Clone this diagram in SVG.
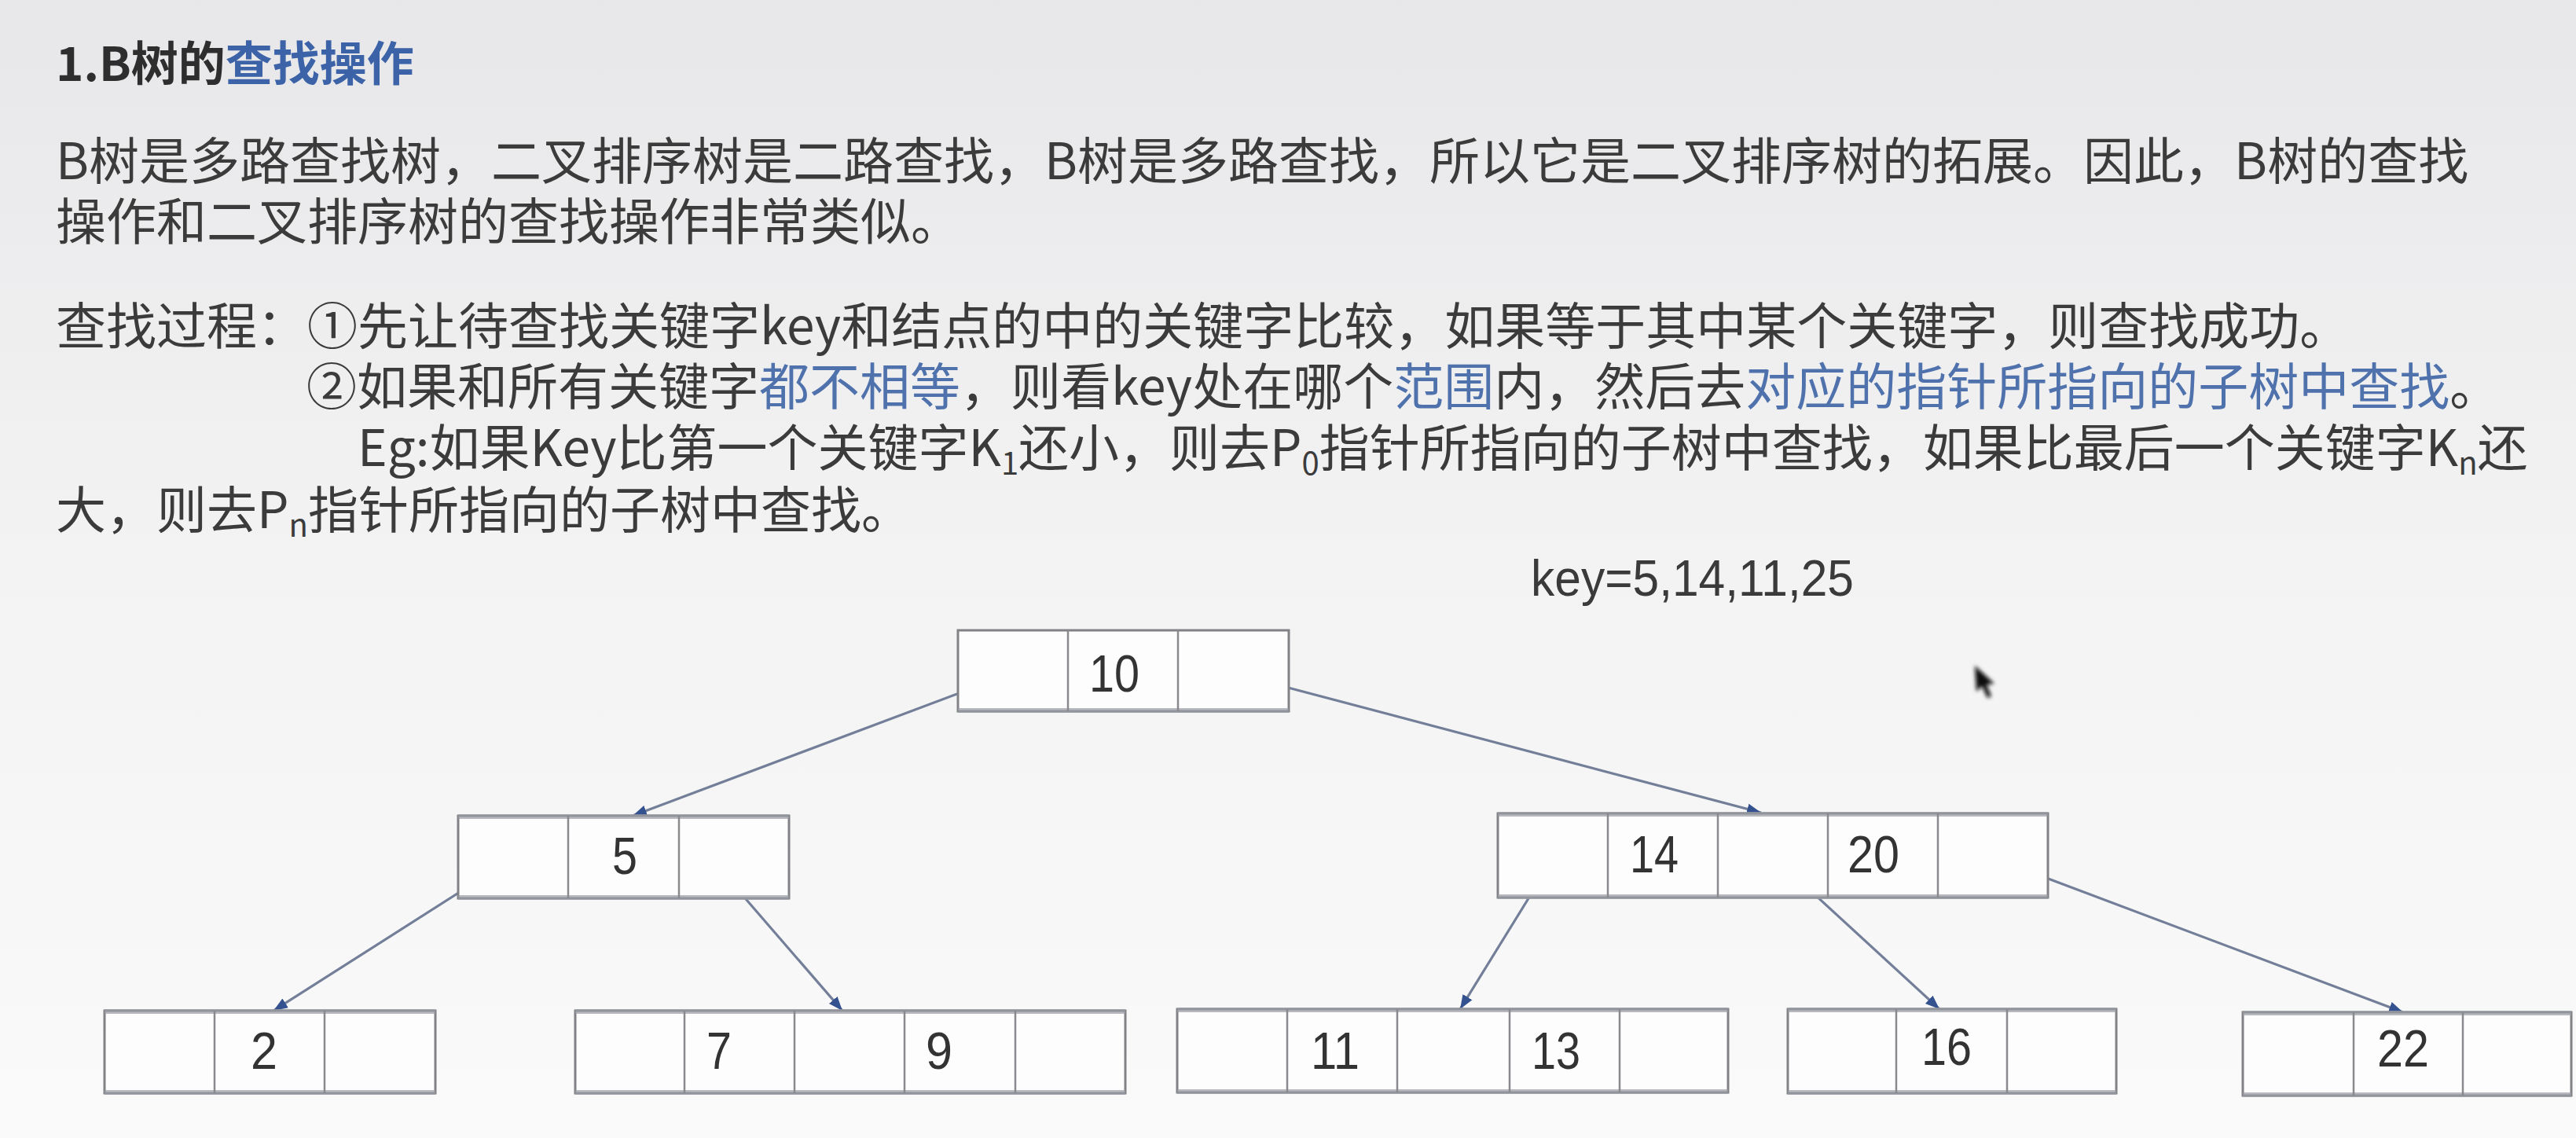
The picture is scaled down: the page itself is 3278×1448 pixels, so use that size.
<svg xmlns="http://www.w3.org/2000/svg" width="3278" height="1448" viewBox="0 0 3278 1448">
<defs>
<linearGradient id="bg" x1="0" y1="0" x2="0" y2="1">
<stop offset="0" stop-color="#e7e7e9"/>
<stop offset="0.45" stop-color="#f2f2f3"/>
<stop offset="1" stop-color="#fafafa"/>
</linearGradient>
<marker id="arr" markerUnits="userSpaceOnUse" markerWidth="20" markerHeight="16" refX="18" refY="8" orient="auto">
<path d="M0,1 L18,8 L0,15 Z" fill="#34528f"/>
</marker>
<filter id="soft" x="-50%" y="-50%" width="200%" height="200%"><feGaussianBlur stdDeviation="2.5"/></filter>
</defs>
<style>
.t{font-family:"Noto Sans CJK SC","Noto Sans CJK JP",sans-serif;font-size:64px;fill:#3b3b3b}
.title{font-family:"Noto Sans CJK SC","Noto Sans CJK JP",sans-serif;font-size:60px;font-weight:bold;fill:#2e2e2e}
.tb{fill:#3c63a7}
.b{fill:#4f72ad}
.sub{font-size:40px}
.key{font-family:"Liberation Sans",Arial,sans-serif;font-size:64px;fill:#3a3a3a}
.box{fill:#fdfdfd;stroke:#828286;stroke-width:3}
.edge{stroke:#9a9da6;stroke-width:6;opacity:0.7}
.div{stroke:#8a8a8e;stroke-width:2.5}
.num{font-family:"Liberation Sans",Arial,sans-serif;font-size:66px;fill:#333;text-anchor:middle}
.conn{stroke:#737e98;stroke-width:3.2;fill:none;marker-end:url(#arr)}
</style>
<rect x="0" y="0" width="3278" height="1448" fill="url(#bg)"/>

<g id="text">
<text class="title" x="71" y="103">1.B树的<tspan class="tb">查找操作</tspan></text>
<text class="t" x="71" y="228">B树是多路查找树，二叉排序树是二路查找，B树是多路查找，所以它是二叉排序树的拓展。因此，B树的查找</text>
<text class="t" x="71" y="305">操作和二叉排序树的查找操作非常类似。</text>
<text class="t" x="71" y="438">查找过程：①先让待查找关键字key和结点的中的关键字比较，如果等于其中某个关键字，则查找成功。</text>
<text class="t" x="390" y="515">②如果和所有关键字<tspan class="b">都不相等</tspan>，则看key处在哪个<tspan class="b">范围</tspan>内，然后去<tspan class="b">对应的指针所指向的子树中查找</tspan>。</text>
<text class="t" x="455" y="593">Eg:如果Key比第一个关键字K<tspan class="sub" dy="11">1</tspan><tspan dy="-11">还小，则去P</tspan><tspan class="sub" dy="11">0</tspan><tspan dy="-11">指针所指向的子树中查找，如果比最后一个关键字K</tspan><tspan class="sub" dy="11">n</tspan><tspan dy="-11">还</tspan></text>
<text class="t" x="71" y="672">大，则去P<tspan class="sub" dy="11">n</tspan><tspan dy="-11">指针所指向的子树中查找。</tspan></text>
<text class="key" x="1948" y="758" textLength="411" lengthAdjust="spacingAndGlyphs">key=5,14,11,25</text>
</g>

<g id="connectors">
<line class="conn" x1="1287" y1="857" x2="805" y2="1038"/>
<line class="conn" x1="1571" y1="857" x2="2241" y2="1034"/>
<line class="conn" x1="651" y1="1093" x2="348" y2="1286"/>
<line class="conn" x1="918" y1="1108" x2="1072" y2="1286"/>
<line class="conn" x1="1976" y1="1093" x2="1858" y2="1284"/>
<line class="conn" x1="2260" y1="1093" x2="2468" y2="1284"/>
<line class="conn" x1="2540" y1="1093" x2="3058" y2="1288"/>
</g>

<g id="node-10">
<rect class="box" x="1219" y="802" width="421" height="103"/>
<line class="edge" x1="1219" y1="904" x2="1640" y2="904"/>
<line class="div" x1="1359" y1="802" x2="1359" y2="905"/>
<line class="div" x1="1499" y1="802" x2="1499" y2="905"/>
<text class="num" x="1418" y="880" textLength="64" lengthAdjust="spacingAndGlyphs">10</text>
</g>

<g id="node-5">
<rect class="box" x="583" y="1038" width="421" height="105"/>
<line class="edge" x1="583" y1="1039" x2="1004" y2="1039"/>
<line class="edge" x1="583" y1="1142" x2="1004" y2="1142"/>
<line class="div" x1="723" y1="1038" x2="723" y2="1143"/>
<line class="div" x1="864" y1="1038" x2="864" y2="1143"/>
<text class="num" x="795" y="1112" textLength="32" lengthAdjust="spacingAndGlyphs">5</text>
</g>

<g id="node-14-20">
<rect class="box" x="1906" y="1035" width="700" height="107"/>
<line class="edge" x1="1906" y1="1036" x2="2606" y2="1036"/>
<line class="edge" x1="1906" y1="1141" x2="2606" y2="1141"/>
<line class="div" x1="2046" y1="1035" x2="2046" y2="1142"/>
<line class="div" x1="2186" y1="1035" x2="2186" y2="1142"/>
<line class="div" x1="2326" y1="1035" x2="2326" y2="1142"/>
<line class="div" x1="2466" y1="1035" x2="2466" y2="1142"/>
<text class="num" x="2105" y="1110" textLength="62" lengthAdjust="spacingAndGlyphs">14</text>
<text class="num" x="2384" y="1110" textLength="66" lengthAdjust="spacingAndGlyphs">20</text>
</g>

<g id="node-2">
<rect class="box" x="133" y="1286" width="421" height="105"/>
<line class="edge" x1="133" y1="1287" x2="554" y2="1287"/>
<line class="edge" x1="133" y1="1390" x2="554" y2="1390"/>
<line class="div" x1="273" y1="1286" x2="273" y2="1391"/>
<line class="div" x1="413" y1="1286" x2="413" y2="1391"/>
<text class="num" x="336" y="1360" textLength="34" lengthAdjust="spacingAndGlyphs">2</text>
</g>

<g id="node-7-9">
<rect class="box" x="732" y="1286" width="700" height="105"/>
<line class="edge" x1="732" y1="1287" x2="1432" y2="1287"/>
<line class="edge" x1="732" y1="1390" x2="1432" y2="1390"/>
<line class="div" x1="871" y1="1286" x2="871" y2="1391"/>
<line class="div" x1="1011" y1="1286" x2="1011" y2="1391"/>
<line class="div" x1="1151" y1="1286" x2="1151" y2="1391"/>
<line class="div" x1="1292" y1="1286" x2="1292" y2="1391"/>
<text class="num" x="915" y="1360" textLength="32" lengthAdjust="spacingAndGlyphs">7</text>
<text class="num" x="1195" y="1360" textLength="34" lengthAdjust="spacingAndGlyphs">9</text>
</g>

<g id="node-11-13">
<rect class="box" x="1498" y="1284" width="701" height="106"/>
<line class="edge" x1="1498" y1="1285" x2="2199" y2="1285"/>
<line class="edge" x1="1498" y1="1389" x2="2199" y2="1389"/>
<line class="div" x1="1638" y1="1284" x2="1638" y2="1390"/>
<line class="div" x1="1778" y1="1284" x2="1778" y2="1390"/>
<line class="div" x1="1921" y1="1284" x2="1921" y2="1390"/>
<line class="div" x1="2061" y1="1284" x2="2061" y2="1390"/>
<text class="num" x="1699" y="1360" textLength="62" lengthAdjust="spacingAndGlyphs">11</text>
<text class="num" x="1980" y="1360" textLength="62" lengthAdjust="spacingAndGlyphs">13</text>
</g>

<g id="node-16">
<rect class="box" x="2275" y="1284" width="418" height="107"/>
<line class="edge" x1="2275" y1="1285" x2="2693" y2="1285"/>
<line class="edge" x1="2275" y1="1390" x2="2693" y2="1390"/>
<line class="div" x1="2413" y1="1284" x2="2413" y2="1391"/>
<line class="div" x1="2554" y1="1284" x2="2554" y2="1391"/>
<text class="num" x="2477" y="1355" textLength="64" lengthAdjust="spacingAndGlyphs">16</text>
</g>

<g id="node-22">
<rect class="box" x="2854" y="1288" width="418" height="106"/>
<line class="edge" x1="2854" y1="1289" x2="3272" y2="1289"/>
<line class="edge" x1="2854" y1="1393" x2="3272" y2="1393"/>
<line class="div" x1="2995" y1="1288" x2="2995" y2="1394"/>
<line class="div" x1="3134" y1="1288" x2="3134" y2="1394"/>
<text class="num" x="3058" y="1357" textLength="66" lengthAdjust="spacingAndGlyphs">22</text>
</g>

<path d="M2513,847 L2515,880 L2522,873 L2529,888 L2534,886 L2528,871 L2538,870 Z" fill="#111" filter="url(#soft)"/>
</svg>
